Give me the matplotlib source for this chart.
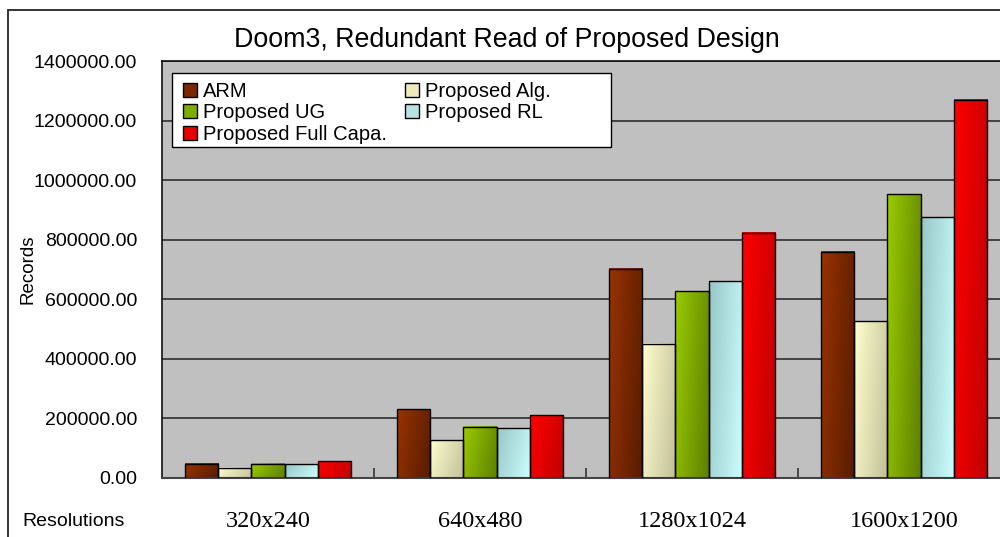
import numpy as np
import matplotlib
matplotlib.use("Agg")
import matplotlib.pyplot as plt
from matplotlib.patches import Rectangle, Patch
from matplotlib.colors import to_rgb

plt.rcParams['font.family'] = ['Liberation Sans', 'DejaVu Sans']

# ---- data ----
resolutions = ["320x240", "640x480", "1280x1024", "1600x1200"]
series_names = ["ARM", "Proposed Alg.", "Proposed UG", "Proposed RL", "Proposed Full Capa."]
arm = [48000, 230000, 702000, 760000]
proposed_alg = [35000, 126000, 451000, 527000]
proposed_ug = [48000, 172000, 627000, 953000]
proposed_rl = [47000, 167000, 660000, 875000]
proposed_full = [56000, 210000, 823000, 1270000]
y_ticks = [0, 200000, 400000, 600000, 800000, 1000000, 1200000, 1400000]

series_values = [arm, proposed_alg, proposed_ug, proposed_rl, proposed_full]
# gradient start (top-left) / end (bottom-right) colours per series
grad_colors = [
    ("#9a3300", "#561c00"),
    ("#ffffcf", "#c2bf98"),
    ("#9acc00", "#5e7f00"),
    ("#98c6c6", "#ccffff"),
    ("#ff0000", "#c00000"),
]
legend_colors = ["#7a2800", "#eeeabc", "#7fac00", "#b6e2e2", "#e80000"]

fig = plt.figure(figsize=(10.0, 5.37), dpi=100)
fig.patch.set_facecolor("white")

# outer chart frame (runs off the right/bottom edges)
fig.add_artist(Rectangle((0.008, -0.2), 1.5, 0.9814 + 0.2, transform=fig.transFigure,
                         facecolor="none", edgecolor="#222222", lw=1.3))

ax = fig.add_axes([0.162, 0.1099, 0.848, 0.7765])
ax.set_facecolor("#c0c0c0")

x = np.arange(len(resolutions))
bar_w = 0.1557
n_series = len(series_values)


def gradient_fill(ax, rect, c0, c1):
    n = 64
    U, V = np.meshgrid(np.linspace(0, 1, n), np.linspace(0, 1, n))
    t = 0.75 * U + 0.25 * (1 - V)
    a, b = np.array(to_rgb(c0)), np.array(to_rgb(c1))
    img = a * (1 - t)[..., None] + b * t[..., None]
    x0, w, h = rect.get_x(), rect.get_width(), rect.get_height()
    ax.imshow(img, extent=(x0, x0 + w, 0, h), origin="lower", aspect="auto",
              interpolation="bilinear", zorder=2)


for i, (vals, (c0, c1)) in enumerate(zip(series_values, grad_colors)):
    bars = ax.bar(x + (i - (n_series - 1) / 2) * bar_w, vals, bar_w,
                  facecolor="none", edgecolor="black", lw=1.0, zorder=3)
    for r in bars:
        gradient_fill(ax, r, c0, c1)

ax.set_xlim(-0.5, len(resolutions) - 0.5)
ax.set_ylim(0, 1400000)
ax.set_yticks(y_ticks)
ax.set_yticklabels([f"{v:.2f}" for v in y_ticks], fontsize=14)
ax.tick_params(axis="y", length=0, pad=18)
ax.grid(axis="y", color="#222222", lw=1.1, zorder=1)
ax.set_axisbelow(True)

ax.set_xticks(x)
ax.set_xticklabels(resolutions, fontsize=17.5, family=["Liberation Serif", "DejaVu Serif"])
ax.tick_params(axis="x", which="major", length=0, pad=24)
ax.set_xticks(x[:-1] + 0.5, minor=True)
ax.tick_params(axis="x", which="minor", direction="in", length=7, width=1.2, color="#333333")

for s in ["left", "top"]:
    ax.spines[s].set_color("#111111")
    ax.spines[s].set_linewidth(1.2)
ax.spines["bottom"].set_color("#444444")
ax.spines["bottom"].set_linewidth(1.5)
ax.spines["right"].set_visible(False)

# legend box drawn separately so its width can be set freely
ax.add_patch(Rectangle((0.0118, 0.7938), 0.5177, 0.1774, transform=ax.transAxes,
                       facecolor="white", edgecolor="black", lw=1.0, zorder=5))
handles = [Patch(facecolor=c, edgecolor="black", lw=1.0) for c in legend_colors]
order = [0, 2, 4, 1, 3]
leg = ax.legend([handles[k] for k in order], [series_names[k] for k in order],
                ncol=2, loc="upper left", bbox_to_anchor=(0.0140, 0.9712),
                frameon=False, fontsize=14.5, handlelength=0.7, handleheight=0.7,
                handletextpad=0.3, columnspacing=0.9, labelspacing=0.12,
                borderpad=0.45, borderaxespad=0)
leg.set_zorder(6)

fig.text(0.507, 1 - 40 / 537, "Doom3, Redundant Read of Proposed Design",
         ha="center", va="center", fontsize=19.3)
fig.text(0.028, 1 - 269 / 537, "Records", rotation=90, ha="center", va="center",
         fontsize=13.5)
fig.text(0.022, 1 - 522 / 537, "Resolutions", ha="left", va="center", fontsize=14)

fig.savefig("out.png", dpi=100, facecolor="white")
